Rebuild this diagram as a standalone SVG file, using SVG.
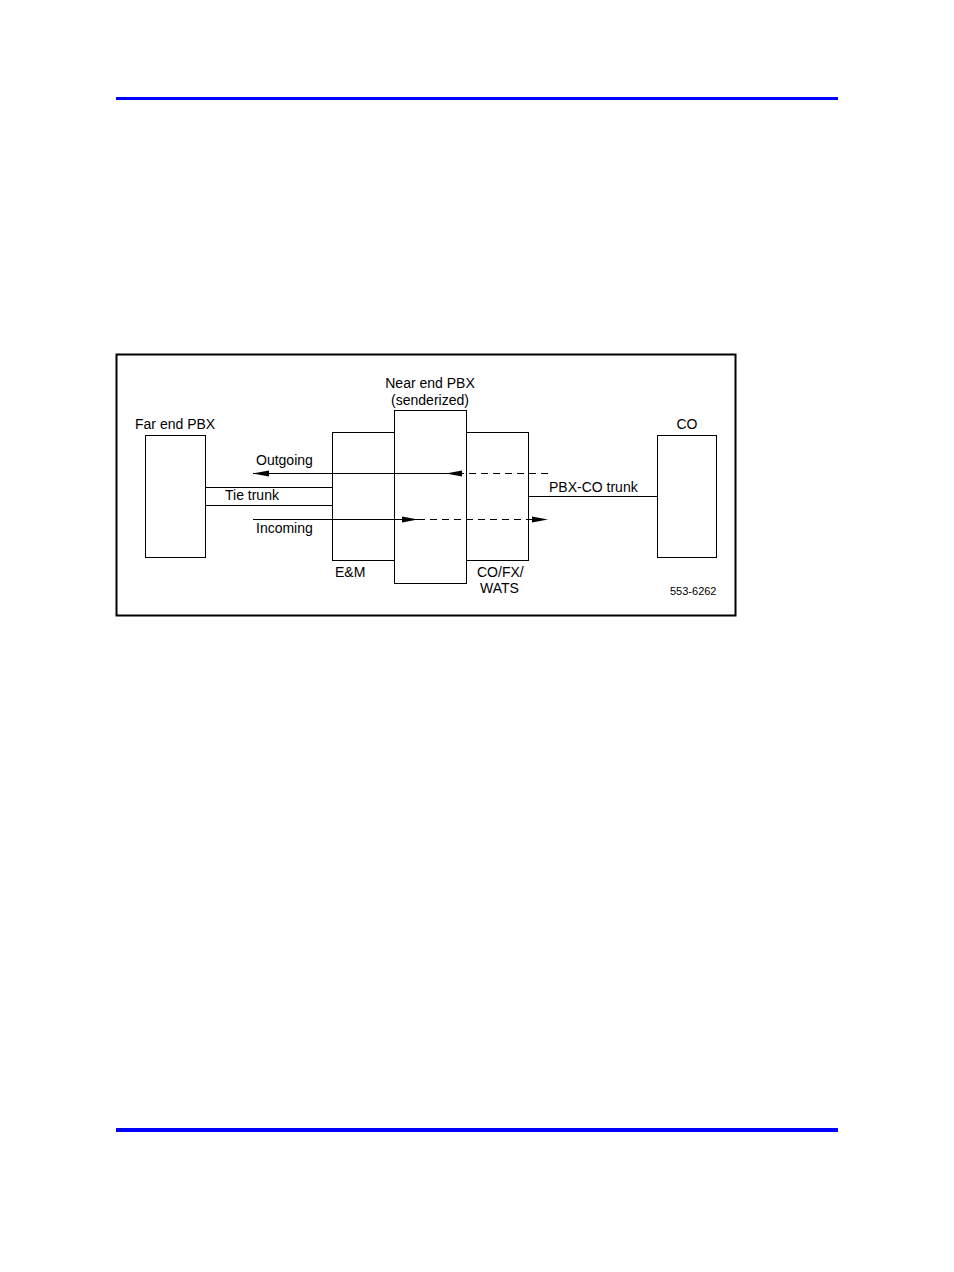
<svg xmlns="http://www.w3.org/2000/svg" width="954" height="1272" viewBox="0 0 954 1272">
<defs>
<style>
.box{fill:#fff;stroke:#000;stroke-width:1}
.t{font-family:"Liberation Sans",Arial,sans-serif;font-size:14px;fill:#000}
.s{font-family:"Liberation Sans",Arial,sans-serif;font-size:11px;fill:#000}
.ln{stroke:#000;stroke-width:1;fill:none}
.dash{stroke:#000;stroke-width:1;fill:none;stroke-dasharray:7,5}
</style>
<marker id="ah" markerWidth="16" markerHeight="8" refX="16" refY="4" orient="auto" markerUnits="userSpaceOnUse">
<path d="M0,1 L16,4 L0,7 Z" fill="#000"/>
</marker>
</defs>
<rect width="954" height="1272" fill="#fff"/>
<rect x="116" y="97" width="722" height="3" fill="#0000ff"/>
<rect x="116" y="1128" width="722" height="4" fill="#0000ff"/>
<rect x="116.5" y="354.5" width="619" height="261" fill="none" stroke="#000" stroke-width="2"/>

<g id="far-end-pbx">
<rect class="box" x="145.5" y="435.5" width="60" height="122"/>
<text class="t" x="135" y="429">Far end PBX</text>
</g>
<g id="em">
<rect class="box" x="332.5" y="432.5" width="62" height="128"/>
<text class="t" x="335" y="577">E&amp;M</text>
</g>
<g id="cofx">
<rect class="box" x="466.5" y="432.5" width="62" height="128"/>
<text class="t" x="477" y="577">CO/FX/</text>
<text class="t" x="480" y="593">WATS</text>
</g>
<g id="near-end-pbx">
<rect class="box" x="394.5" y="410.5" width="72" height="173"/>
<text class="t" x="430" y="388" text-anchor="middle">Near end PBX</text>
<text class="t" x="430" y="405" text-anchor="middle">(senderized)</text>
</g>
<g id="co">
<rect class="box" x="657.5" y="435.5" width="59" height="122"/>
<text class="t" x="687" y="429" text-anchor="middle">CO</text>
</g>

<g id="connectors">
<line class="ln" x1="205" y1="487.5" x2="333" y2="487.5"/>
<line class="ln" x1="205" y1="505.5" x2="333" y2="505.5"/>
<line class="ln" x1="529" y1="496.5" x2="657" y2="496.5"/>
<line class="dash" x1="548" y1="473.5" x2="446" y2="473.5" marker-end="url(#ah)"/>
<line class="ln" x1="446" y1="473.5" x2="253" y2="473.5" marker-end="url(#ah)"/>
<line class="ln" x1="253" y1="519.5" x2="418" y2="519.5" marker-end="url(#ah)"/>
<line class="dash" x1="418" y1="519.5" x2="548" y2="519.5" marker-end="url(#ah)"/>
<text class="t" x="256" y="465">Outgoing</text>
<text class="t" x="225" y="500">Tie trunk</text>
<text class="t" x="256" y="533">Incoming</text>
<text class="t" x="549" y="492">PBX-CO trunk</text>
</g>
<text class="s" x="670" y="595">553-6262</text>
</svg>
